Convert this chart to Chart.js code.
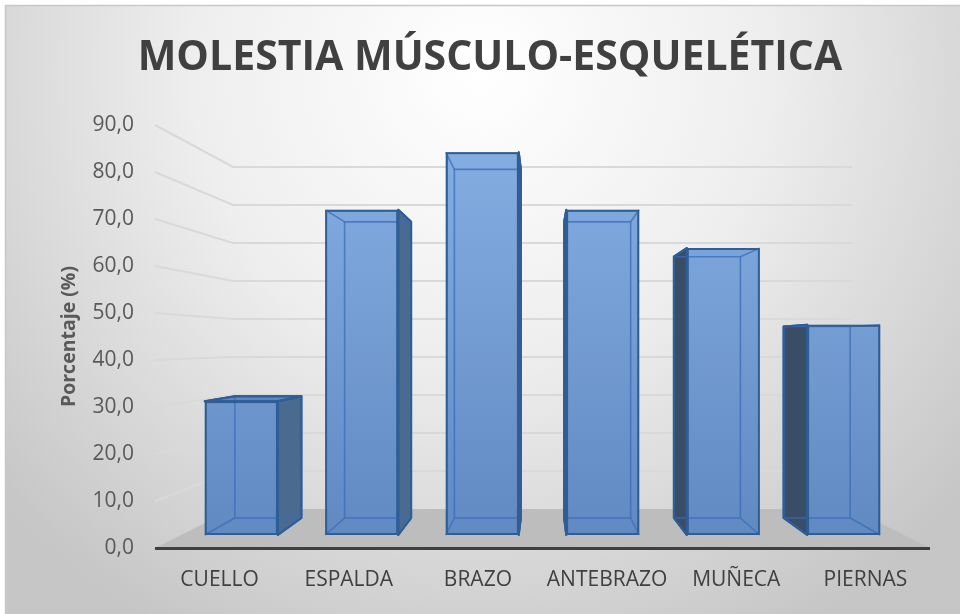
<!DOCTYPE html>
<html>
<head>
<meta charset="utf-8">
<script src="https://cdn.jsdelivr.net/npm/chart.js@4.4.0/dist/chart.umd.min.js"></script>
<style>
  html, body { margin: 0; padding: 0; background: #ffffff; }
  #wrap { width: 960px; height: 614px; position: relative; }
</style>
</head>
<body>
<div id="wrap"><canvas id="c" width="960" height="614"></canvas></div>
<script>
// ---- data ----
const categories = ['CUELLO', 'ESPALDA', 'BRAZO', 'ANTEBRAZO', 'MUÑECA', 'PIERNAS'];
const percentages = [30.4, 73.9, 87.0, 73.9, 65.2, 47.8];
const valueTicks = [0, 10, 20, 30, 40, 50, 60, 70, 80, 90];
const chartTitle = 'MOLESTIA MÚSCULO-ESQUELÉTICA';
const axisTitle = 'Porcentaje (%)';

// ---- 3D room geometry (front frame = chart area, back wall further in) ----
const VIEW = {
  frontLeft: 155, frontRight: 930, frontFloor: 548, frontTop: 125,
  backLeft: 233, backRight: 852, backFloor: 509, backTop: 167,
  barFrontFloor: 535, barBackFloor: 518
};
const maxValue = valueTicks[valueTicks.length - 1];
const frontSlope = (VIEW.frontFloor - VIEW.frontTop) / maxValue;
const backSlope = (VIEW.backFloor - VIEW.backTop) / maxValue;
const horizonY = VIEW.frontFloor - frontSlope * (VIEW.frontFloor - VIEW.backFloor) / (frontSlope - backSlope);
const vanishX = (VIEW.frontLeft + VIEW.frontRight) / 2;

function slopeAt(floorY) {
  return frontSlope * (floorY - horizonY) / (VIEW.frontFloor - horizonY);
}
function edgesAt(floorY) {
  const t = (VIEW.frontFloor - floorY) / (VIEW.frontFloor - VIEW.backFloor);
  return [VIEW.frontLeft + (VIEW.backLeft - VIEW.frontLeft) * t,
          VIEW.frontRight + (VIEW.backRight - VIEW.frontRight) * t];
}
// value range of a hidden axis whose zero sits on the floor at the given depth
function valueRange(floorY) {
  const k = slopeAt(floorY);
  const min = -(VIEW.frontFloor - floorY) / k;
  return { min: min, max: min + (VIEW.frontFloor - VIEW.frontTop) / k };
}
const barEdges = edgesAt(VIEW.barFrontFloor);
const slot = (barEdges[1] - barEdges[0]) / categories.length;
const xBarMin = -(barEdges[0] + slot / 2 - VIEW.frontLeft) / slot;
const xBarMax = xBarMin + (VIEW.frontRight - VIEW.frontLeft) / slot;
const depthFactor = (VIEW.barBackFloor - horizonY) / (VIEW.barFrontFloor - horizonY);

function toBack(x, y) {
  return [vanishX + (x - vanishX) * depthFactor, horizonY + (y - horizonY) * depthFactor];
}

// ---- title size fitted to its line width ----
const TITLE_FONT = '"Open Sans", "Liberation Sans", sans-serif';
const measureCtx = document.createElement('canvas').getContext('2d');
measureCtx.font = 'bold 40px ' + TITLE_FONT;
const titleSize = Math.round(40 * 704 / measureCtx.measureText(chartTitle).width);
const titleLine = titleSize * 1.2;
const titleTop = 58 - titleLine / 2;
const titleBottom = VIEW.frontTop - titleTop - titleLine;

// ---- plugins ----
const backdrop = {
  id: 'backdrop',
  beforeDraw(chart) {
    const ctx = chart.ctx;
    ctx.save();
    ctx.fillStyle = '#ffffff';
    ctx.fillRect(0, 0, chart.width, chart.height);
    const g = ctx.createRadialGradient(480, 70, 0, 480, 70, 640);
    g.addColorStop(0, '#ffffff');
    g.addColorStop(0.45, '#eeeeee');
    g.addColorStop(1, '#c6c6c6');
    ctx.fillStyle = g;
    ctx.fillRect(5, 5, chart.width - 5, chart.height - 5);
    ctx.strokeStyle = '#c8c8c8';
    ctx.lineWidth = 1.5;
    ctx.beginPath();
    ctx.moveTo(5.5, chart.height);
    ctx.lineTo(5.5, 5.5);
    ctx.lineTo(chart.width, 5.5);
    ctx.stroke();
    ctx.restore();
  }
};

function boxGeometry(bar) {
  const p = bar.getProps(['x', 'y', 'base', 'width'], true);
  const l = p.x - p.width / 2, r = p.x + p.width / 2, t = p.y, b = p.base;
  const [lb, tb] = toBack(l, t);
  const [rb, bb] = toBack(r, b);
  return { l, r, t, b, lb, rb, tb, bb };
}

function poly(ctx, pts) {
  ctx.beginPath();
  ctx.moveTo(pts[0][0], pts[0][1]);
  for (let i = 1; i < pts.length; i++) ctx.lineTo(pts[i][0], pts[i][1]);
  ctx.closePath();
}

function sideFace(g) {
  if (g.r < vanishX) return { pts: [[g.r, g.t], [g.rb, g.tb], [g.rb, g.bb], [g.r, g.b]], color: '#4a6a90' };
  if (g.l > vanishX) return { pts: [[g.l, g.t], [g.lb, g.tb], [g.lb, g.bb], [g.l, g.b]], color: '#3a4d67' };
  return null;
}
function topFace(g) {
  if (g.t > horizonY) return { pts: [[g.l, g.t], [g.r, g.t], [g.rb, g.tb], [g.lb, g.tb]], color: '#5b86be' };
  return null;
}

const room = {
  id: 'room',
  beforeDatasetsDraw(chart) {
    const ctx = chart.ctx;
    const s = chart.scales;
    const area = chart.chartArea;
    ctx.save();
    // side wall and back wall gridlines
    ctx.lineWidth = 2;
    valueTicks.forEach(v => {
      if (v === 0) return;
      const yf = s.y.getPixelForValue(v);
      const yb = s.yWall.getPixelForValue(v);
      ctx.strokeStyle = '#d9d9d9';
      ctx.beginPath();
      ctx.moveTo(area.left, yf);
      ctx.lineTo(VIEW.backLeft, yb);
      ctx.lineTo(VIEW.backRight, yb);
      ctx.stroke();
    });
    // floor
    const yf0 = s.y.getPixelForValue(0);
    const yb0 = s.yWall.getPixelForValue(0);
    ctx.fillStyle = '#bdbdbd';
    poly(ctx, [[area.left, yf0], [VIEW.backLeft, yb0], [VIEW.backRight, yb0], [area.right, yf0]]);
    ctx.fill();
    // front floor edge (category axis line)
    ctx.strokeStyle = '#3f3f3f';
    ctx.lineWidth = 3;
    ctx.beginPath();
    ctx.moveTo(area.left, yf0 + 0.5);
    ctx.lineTo(area.right, yf0 + 0.5);
    ctx.stroke();
    // side and top faces of the columns
    const meta = chart.getDatasetMeta(0);
    ctx.lineWidth = 2;
    ctx.strokeStyle = '#2f5e97';
    ctx.lineJoin = 'round';
    meta.data.forEach(bar => {
      const g = boxGeometry(bar);
      [sideFace(g), topFace(g)].forEach(f => {
        if (!f) return;
        ctx.fillStyle = f.color;
        poly(ctx, f.pts);
        ctx.fill();
        ctx.stroke();
      });
    });
    ctx.restore();
  },
  afterDatasetsDraw(chart) {
    const ctx = chart.ctx;
    const meta = chart.getDatasetMeta(0);
    ctx.save();
    ctx.lineJoin = 'round';
    meta.data.forEach(bar => {
      const g = boxGeometry(bar);
      // hidden edges seen through the translucent column
      ctx.strokeStyle = 'rgba(58, 110, 182, 0.75)';
      ctx.lineWidth = 1.6;
      poly(ctx, [[g.lb, g.tb], [g.rb, g.tb], [g.rb, g.bb], [g.lb, g.bb]]);
      ctx.stroke();
      ctx.beginPath();
      ctx.moveTo(g.l, g.t); ctx.lineTo(g.lb, g.tb);
      ctx.moveTo(g.r, g.t); ctx.lineTo(g.rb, g.tb);
      ctx.moveTo(g.l, g.b); ctx.lineTo(g.lb, g.bb);
      ctx.moveTo(g.r, g.b); ctx.lineTo(g.rb, g.bb);
      ctx.stroke();
      // outer silhouette
      ctx.strokeStyle = '#2f5e97';
      ctx.lineWidth = 2;
      [sideFace(g), topFace(g)].forEach(f => {
        if (!f) return;
        poly(ctx, f.pts);
        ctx.stroke();
      });
      ctx.strokeRect(g.l + 1, g.t + 1, g.r - g.l - 2, g.b - g.t - 2);
    });
    ctx.restore();
  }
};

let frontGradient = null;
function frontFill(context) {
  const chart = context.chart;
  const area = chart.chartArea;
  if (!area) return '#6f98cd';
  if (!frontGradient) {
    frontGradient = chart.ctx.createLinearGradient(0, area.top, 0, VIEW.barFrontFloor);
    frontGradient.addColorStop(0, '#86b0e4');
    frontGradient.addColorStop(1, '#6189c2');
  }
  return frontGradient;
}

const labelFont = '"Open Sans", "Liberation Sans", sans-serif';

new Chart(document.getElementById('c'), {
  type: 'bar',
  data: {
    labels: categories,
    datasets: [{
      label: axisTitle,
      data: percentages.map((v, i) => ({ x: i, y: v })),
      xAxisID: 'xBar',
      yAxisID: 'yBar',
      backgroundColor: frontFill,
      borderColor: '#2f5e97',
      borderWidth: 2,
      barPercentage: 0.606,
      categoryPercentage: 1
    }]
  },
  options: {
    responsive: false,
    animation: false,
    devicePixelRatio: 1,
    layout: { padding: { left: 50, right: 30, top: 0, bottom: 0 } },
    plugins: {
      legend: { display: false },
      tooltip: { enabled: false },
      title: {
        display: true,
        text: chartTitle,
        color: '#404040',
        font: { family: TITLE_FONT, weight: 'bold', size: titleSize, lineHeight: 1.2 },
        padding: { top: titleTop, bottom: titleBottom }
      }
    },
    scales: {
      x: {
        type: 'category',
        position: 'bottom',
        offset: true,
        grid: { display: false, drawTicks: false },
        border: { display: false },
        ticks: { color: '#404040', font: { family: labelFont, size: 21 }, padding: 19, maxRotation: 0, autoSkip: false },
        afterFit(scale) { scale.height = 614 - VIEW.frontFloor; }
      },
      y: {
        type: 'linear',
        position: 'left',
        min: valueTicks[0],
        max: maxValue,
        grid: { display: false, drawTicks: false },
        border: { display: false },
        ticks: {
          stepSize: valueTicks[1] - valueTicks[0],
          color: '#595959',
          font: { family: labelFont, size: 21 },
          padding: 21,
          callback: v => v.toFixed(1).replace('.', ',')
        },
        title: {
          display: true,
          text: axisTitle,
          color: '#595959',
          font: { family: labelFont, size: 19.5, weight: 'bold', lineHeight: 1.2 },
          padding: { top: 8, bottom: 0 }
        },
        afterFit(scale) { scale.width = VIEW.frontLeft - 50; }
      },
      xBar: { type: 'linear', display: false, offset: false, min: xBarMin, max: xBarMax },
      yBar: Object.assign({ type: 'linear', display: false }, valueRange(VIEW.barFrontFloor)),
      yWall: Object.assign({ type: 'linear', display: false }, valueRange(VIEW.backFloor))
    }
  },
  plugins: [backdrop, room]
});
</script>
</body>
</html>
